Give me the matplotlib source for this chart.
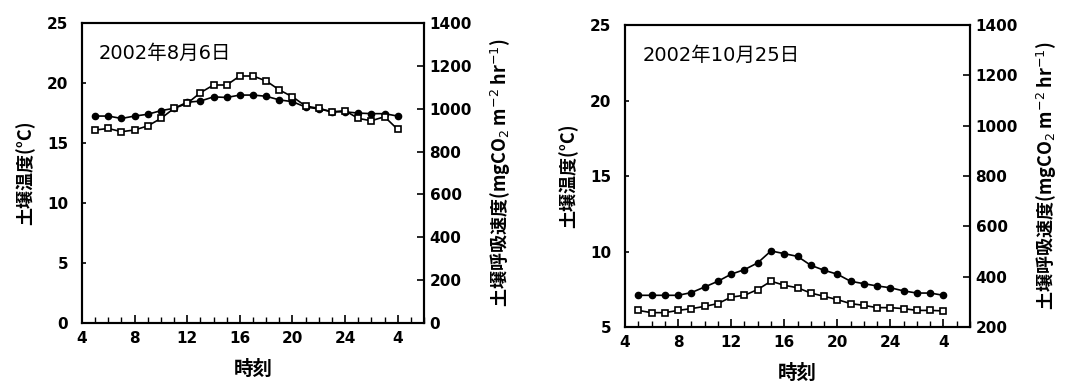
#!/usr/bin/env python3
# -*- coding: utf-8 -*-
"""Soil temperature and soil respiration over a day, two dates side by side."""

import matplotlib

matplotlib.use("Agg")
import matplotlib.pyplot as plt
from matplotlib.ticker import MultipleLocator

plt.rcParams["font.family"] = ["Noto Sans CJK JP", "DejaVu Sans"]
plt.rcParams["mathtext.fontset"] = "dejavusans"

hours = list(range(5, 29))
xtick_pos = [4, 8, 12, 16, 20, 24, 28]
xtick_labels = ["4", "8", "12", "16", "20", "24", "4"]

# 2002-08-06
aug_temp = [17.25, 17.25, 17.05, 17.25, 17.4, 17.7, 17.9, 18.4, 18.5, 18.85,
            18.8, 19.0, 19.0, 18.9, 18.6, 18.45, 18.0, 17.85, 17.6, 17.6,
            17.5, 17.45, 17.45, 17.25]
aug_resp = [901, 908, 893, 901, 920, 955, 1002, 1025, 1075, 1111,
            1111, 1153, 1153, 1130, 1088, 1056, 1013, 1002, 986, 991,
            955, 944, 963, 904]

# 2002-10-25
oct_temp = [7.1, 7.1, 7.1, 7.1, 7.28, 7.65, 8.03, 8.5, 8.8, 9.25,
            10.04, 9.86, 9.68, 9.09, 8.76, 8.5, 8.03, 7.87, 7.72, 7.6,
            7.39, 7.25, 7.25, 7.1]
oct_resp = [266, 257, 257, 266, 273, 282, 293, 319, 326, 349,
            382, 366, 356, 335, 322, 309, 293, 286, 277, 277,
            273, 266, 266, 264]

panels = [
    ("2002年8月6日", aug_temp, aug_resp, (0, 25), (0, 1400),
     [0.0755, 0.1675, 0.3149, 0.773]),
    ("2002年10月25日", oct_temp, oct_resp, (5, 25), (200, 1400),
     [0.5755, 0.1572, 0.3177, 0.778]),
]

num_font = {"family": "DejaVu Sans", "weight": "bold", "size": 11}
mixed = ["DejaVu Sans", "Noto Sans CJK JP"]

fig = plt.figure(figsize=(10.86, 3.88), dpi=100)

for title, temp, resp, tlim, rlim, rect in panels:
    ax = fig.add_axes(rect)
    ax2 = ax.twinx()
    ax.plot(hours, temp, color="black", lw=1.2, marker="o", ms=4.5,
            mfc="black", mec="black", zorder=3)
    ax2.plot(hours, resp, color="black", lw=1.2, marker="s", ms=5,
             mfc="white", mec="black", mew=1.2, zorder=3)

    ax.set_xlim(4, 30)
    ax.set_ylim(*tlim)
    ax2.set_ylim(*rlim)
    ax.set_xticks(xtick_pos)
    ax.set_xticklabels(xtick_labels)
    ax.xaxis.set_minor_locator(MultipleLocator(1))
    ax.yaxis.set_major_locator(MultipleLocator(5))
    ax2.yaxis.set_major_locator(MultipleLocator(200))

    ax.tick_params(axis="x", which="major", direction="in", length=6,
                   width=1.2, pad=6)
    ax.tick_params(axis="x", which="minor", direction="in", length=4,
                   width=1.0)
    ax.tick_params(axis="y", direction="in", length=3, width=1.2, pad=10)
    ax2.tick_params(axis="y", direction="in", length=5, width=1.2, pad=4)
    for lab in ax.get_xticklabels() + ax.get_yticklabels() + ax2.get_yticklabels():
        lab.set_fontproperties(num_font)
    for sp in ax.spines.values():
        sp.set_linewidth(1.5)
    for sp in ax2.spines.values():
        sp.set_linewidth(1.5)

    ax.set_xlabel("時刻", fontsize=14, fontweight="bold", labelpad=10)
    ax.set_ylabel("土壌温度(°C)", fontsize=13, fontweight="bold", labelpad=8)
    ax2.set_ylabel(r"土壌呼吸速度(mgCO$_2$ m$^{-2}$ hr$^{-1}$)", fontsize=13,
                   fontweight="bold", rotation=90, labelpad=12)
    ax.text(0.05, 0.9, title, transform=ax.transAxes, fontsize=14,
            family=mixed, ha="left", va="center")

fig.savefig("out.png", dpi=100)
